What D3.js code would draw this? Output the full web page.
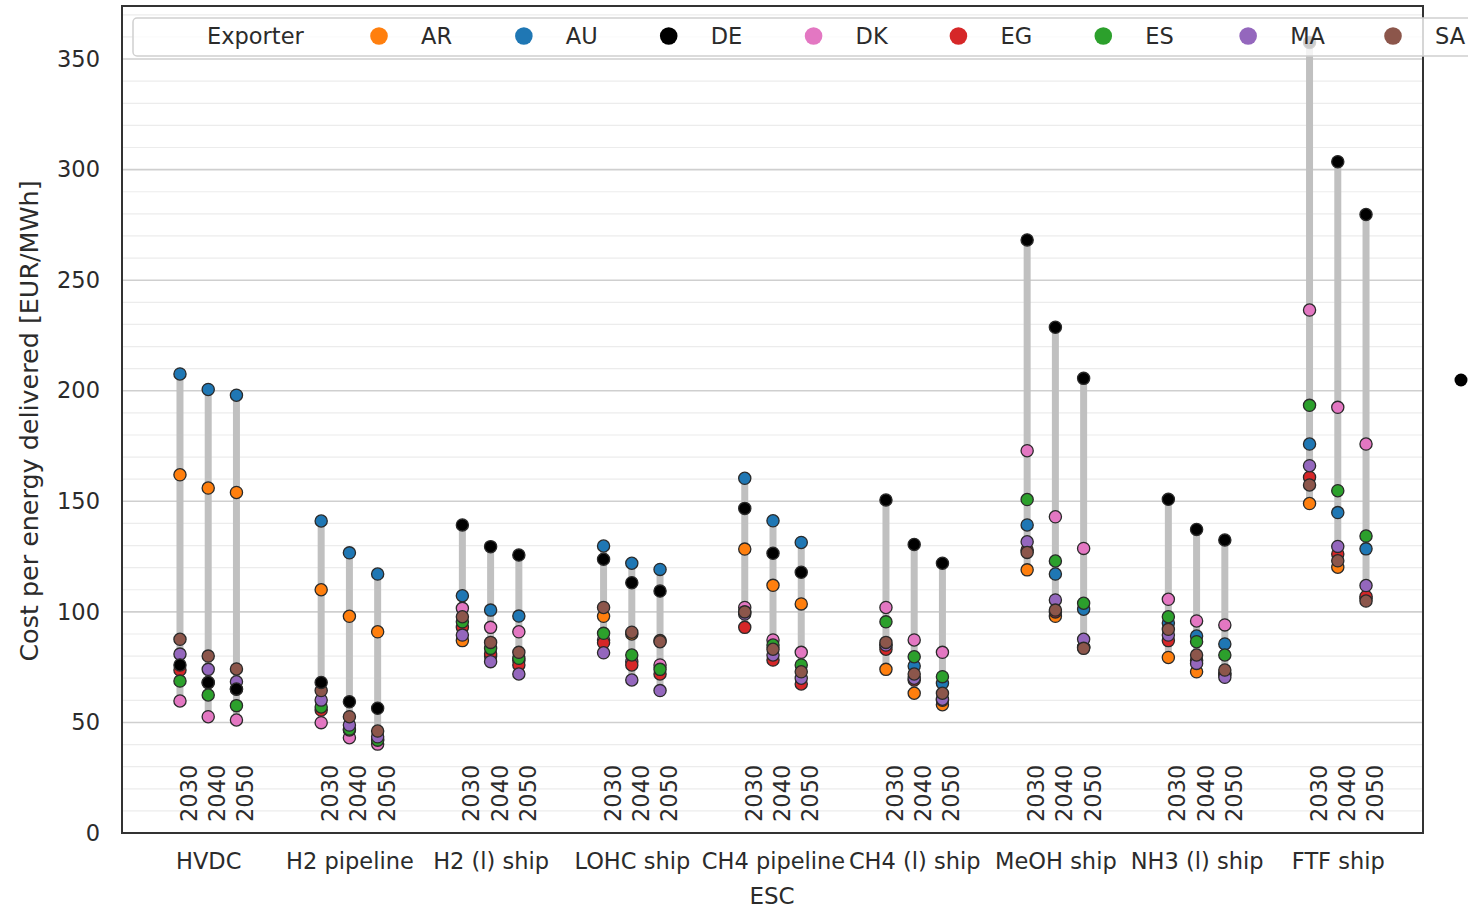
<!DOCTYPE html>
<html>
<head>
<meta charset="utf-8">
<script src="https://cdn.jsdelivr.net/npm/d3@7"></script>
<style>
  html, body { margin: 0; padding: 0; background: #fff; }
  svg { display: block; }
  text { font-family: "DejaVu Sans", sans-serif; fill: #2b2b2b; }
</style>
</head>
<body>
<svg id="chart" width="1468" height="908"></svg>
<script>
// Export supply chains (ESC) and the three scenario years
const categories = ["HVDC", "H2 pipeline", "H2 (l) ship", "LOHC ship", "CH4 pipeline",
                    "CH4 (l) ship", "MeOH ship", "NH3 (l) ship", "FTF ship"];
const years = ["2030", "2040", "2050"];
const exporters = ["AR", "AU", "DE", "DK", "EG", "ES", "MA", "SA"];
const exporterColors = ["#ff7f0e", "#1f77b4", "#000000", "#e377c2", "#d62728", "#2ca02c", "#9467bd", "#8c564b"];
const yTicks = [0, 50, 100, 150, 200, 250, 300, 350];

// Cost per energy delivered [EUR/MWh]; per exporter, ESC by ESC, years 2030/2040/2050
const costAR = [162, 156, 154,  110, 98, 91,      87, 80, 78,       98, 90, 87,
                128.4, 112, 103.6,  74, 63.2, 58,  119, 98, 84,      79.4, 72.9, 72,   149, 120.2, 106];
const costAU = [207.6, 200.6, 198,  141.1, 126.7, 117.1,  107.3, 100.8, 98.1,  129.8, 122, 119.2,
                160.4, 141.2, 131.4,  85, 75.5, 67.7,  139.3, 117.1, 101.2,  95, 89.1, 85.5,  175.9, 144.9, 128.5];
const costDE = [76, 68.1, 65.1,  68.1, 59.4, 56.4,  139.3, 129.5, 125.7,  123.8, 113.2, 109.4,
                146.8, 126.5, 117.9,  150.6, 130.5, 122,  268.2, 228.7, 205.6,  150.9, 137.3, 132.5,  357.5, 303.6, 279.7];
const costDK = [59.7, 52.6, 51.1,  49.9, 43.1, 40.2,  101.6, 93, 91,  87.3, 77.5, 76,
                102, 87.3, 81.7,  102, 87.3, 81.7,  172.9, 143, 128.7,  105.7, 95.9, 94.1,  236.5, 192.5, 175.9];
const costEG = [73.7, 68, 65,  55.6, 46.6, 42.5,  93, 81, 76,  86, 76, 71.9,
                93, 78.2, 67.4,  83.1, 69.2, 60,  128, 100, 84,  87, 78, 72,  160.9, 126.2, 107];
const costES = [68.7, 62.4, 57.6,  57, 47, 42,  95.5, 83.5, 79,  90.3, 80.5, 74,
                100, 85, 76,  95.5, 79.7, 70.7,  150.8, 123, 103.9,  97.8, 86.5, 80.5,  193.4, 154.8, 134.3];
const costMA = [80.9, 74, 68.4,  60.1, 48.8, 43.5,  89.5, 77.5, 71.9,  81.5, 69.2, 64.4,
                99, 80.5, 70,  85, 70, 60.5,  131.7, 105.4, 87.6,  89.5, 76.7, 70.4,  166.1, 129.6, 111.9];
const costSA = [87.6, 80, 74.2,  64.4, 52.6, 46.1,  97.8, 86.2, 81.7,  102, 90.8, 86.5,
                100, 83.1, 72.9,  86.2, 71.9, 63.2,  126.9, 100.8, 83.5,  92.1, 80.5, 73.7,  157.4, 123.1, 104.9];
const costByExporter = [costAR, costAU, costDE, costDK, costEG, costES, costMA, costSA];

// Long-format rows built from the arrays above
const rows = [];
exporters.forEach((ex, e) => {
  categories.forEach((cat, c) => {
    years.forEach((yr, j) => {
      rows.push({ exporter: ex, color: exporterColors[e], cat: c, year: j, value: costByExporter[e][c * 3 + j] });
    });
  });
});

const svg = d3.select("#chart");
const plot = { left: 122, right: 1423, top: 6, bottom: 833 };

// Each ESC occupies five slots on the x axis: three years plus a gap
const slot = (c, j) => c * 5 + j;
const x = d3.scaleLinear().domain([-2, 44]).range([123.5, 1422.5]);
const y = d3.scaleLinear().domain([0, 374]).range([plot.bottom, plot.top]);

// Horizontal grid: light lines every 10, stronger every 50
const grid = svg.append("g");
grid.selectAll("line.minor")
  .data(d3.range(10, 374, 10).filter(v => v % 50 !== 0))
  .join("line")
  .attr("x1", plot.left).attr("x2", plot.right)
  .attr("y1", d => y(d)).attr("y2", d => y(d))
  .attr("stroke", "#ececec").attr("stroke-width", 1.2);
grid.selectAll("line.major")
  .data(yTicks)
  .join("line")
  .attr("x1", plot.left).attr("x2", plot.right)
  .attr("y1", d => y(d)).attr("y2", d => y(d))
  .attr("stroke", "#cfcfcf").attr("stroke-width", 1.6);

// Min–max range bar for each ESC and year
const ranges = [];
categories.forEach((cat, c) => {
  years.forEach((yr, j) => {
    const vals = rows.filter(r => r.cat === c && r.year === j).map(r => r.value);
    ranges.push({ c, j, lo: d3.min(vals), hi: d3.max(vals) });
  });
});
svg.append("g").selectAll("line")
  .data(ranges)
  .join("line")
  .attr("x1", d => x(slot(d.c, d.j))).attr("x2", d => x(slot(d.c, d.j)))
  .attr("y1", d => y(d.lo)).attr("y2", d => y(d.hi))
  .attr("stroke", "#c0c0c0").attr("stroke-width", 7);

// Points: DE drawn last so it sits on top
const drawOrder = ["AR", "AU", "DK", "EG", "ES", "MA", "SA", "DE"];
const sorted = rows.slice().sort((a, b) => drawOrder.indexOf(a.exporter) - drawOrder.indexOf(b.exporter));
svg.append("g").selectAll("circle")
  .data(sorted)
  .join("circle")
  .attr("cx", d => x(slot(d.cat, d.year)))
  .attr("cy", d => y(d.value))
  .attr("r", 6.1)
  .attr("fill", d => d.color)
  .attr("stroke", "#2a2a2a")
  .attr("stroke-width", 1.3);

// Year labels inside the plot, rotated, starting just above the x axis
const yearLabels = [];
categories.forEach((cat, c) => years.forEach((yr, j) => yearLabels.push({ c, j, yr })));
svg.append("g").selectAll("text")
  .data(yearLabels)
  .join("text")
  .attr("transform", d => `translate(${x(slot(d.c, d.j)) + 17},${y(5)}) rotate(-90)`)
  .attr("font-size", 22.5)
  .text(d => d.yr);

// Y axis tick labels
const yAxis = d3.axisLeft(y).tickValues(yTicks).tickSize(0).tickPadding(22);
const yAxisG = svg.append("g").attr("transform", `translate(${plot.left},0)`).call(yAxis);
yAxisG.select(".domain").remove();
yAxisG.selectAll("text").attr("font-size", 22.5).attr("font-family", "DejaVu Sans").attr("fill", "#353535");

// ESC labels under the axis
const xAxis = d3.axisBottom(x).tickValues(categories.map((c, i) => slot(i, 1)))
  .tickFormat((d, i) => categories[i]).tickSize(0).tickPadding(20);
const xAxisG = svg.append("g").attr("transform", `translate(0,${plot.bottom})`).call(xAxis);
xAxisG.select(".domain").remove();
xAxisG.selectAll("text").attr("font-size", 22.5).attr("font-family", "DejaVu Sans").attr("fill", "#353535");

// Axis titles
svg.append("text")
  .attr("x", 772).attr("y", 904)
  .attr("text-anchor", "middle").attr("font-size", 23)
  .text("ESC");
svg.append("text")
  .attr("transform", "translate(38,421) rotate(-90)")
  .attr("text-anchor", "middle").attr("font-size", 25.4)
  .text("Cost per energy delivered [EUR/MWh]");

// Plot frame
svg.append("rect")
  .attr("x", plot.left).attr("y", plot.top)
  .attr("width", plot.right - plot.left).attr("height", plot.bottom - plot.top)
  .attr("fill", "none").attr("stroke", "#333").attr("stroke-width", 2);

// Legend across the top
const legend = svg.append("g");
legend.append("rect")
  .attr("x", 133).attr("y", 18).attr("width", 1400).attr("height", 38).attr("rx", 4)
  .attr("fill", "#fff").attr("fill-opacity", 0.8)
  .attr("stroke", "#d0d0d0").attr("stroke-width", 1.5);
legend.append("text")
  .attr("x", 207).attr("y", 44).attr("font-size", 22.5)
  .text("Exporter");
const legendX = d3.scalePoint().domain(exporters).range([379, 1393]);
const items = legend.selectAll("g.item")
  .data(exporters)
  .join("g")
  .attr("transform", d => `translate(${legendX(d)},36)`);
items.append("circle")
  .attr("r", 8.8)
  .attr("fill", (d, i) => exporterColors[i]);
items.append("text")
  .attr("x", 42).attr("y", 8).attr("font-size", 22.5)
  .text(d => d);

// Marker outside the axes on the right
svg.append("circle").attr("cx", 1461).attr("cy", 380).attr("r", 6.5).attr("fill", "#000");
</script>
</body>
</html>
